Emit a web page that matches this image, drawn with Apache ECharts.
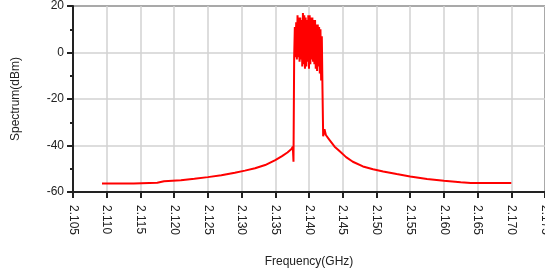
<!DOCTYPE html>
<html>
<head>
<meta charset="utf-8">
<script src="https://cdn.jsdelivr.net/npm/echarts@6/dist/echarts.min.js"></script>
<style>
  html, body { margin: 0; padding: 0; background: #fff; }
  #chart { width: 545px; height: 271px; }
</style>
</head>
<body>
<div id="chart"></div>
<script>
// frequency in GHz
const freqs = [
  2.1093, 2.1140, 2.1175, 2.1185, 2.1210, 2.1230, 2.1250, 2.1270, 2.1290, 2.1305,
  2.1320, 2.1335, 2.1350, 2.1360, 2.1368, 2.1374, 2.1376, 2.1377,
  2.1378, 2.1379, 2.1380, 2.1381, 2.1382, 2.1383, 2.1384, 2.1385, 2.1386, 2.1387,
  2.1388, 2.1389, 2.1390, 2.1391, 2.1392, 2.1393, 2.1394, 2.1395, 2.1396, 2.1397,
  2.1398, 2.1399, 2.1400, 2.1401, 2.1402, 2.1403, 2.1404, 2.1405, 2.1406, 2.1407,
  2.1408, 2.1409, 2.1410, 2.1411, 2.1412, 2.1413, 2.1414, 2.1415, 2.1416, 2.1417,
  2.1418, 2.1419, 2.1420,
  2.1421, 2.1423, 2.1425, 2.1430, 2.1438, 2.1446, 2.1455, 2.1465, 2.1480, 2.1495,
  2.1510, 2.1530, 2.1550, 2.1575, 2.1600, 2.1625, 2.1640, 2.1700
]
// spectrum in dBm
const levels = [
  -56.3, -56.3, -56.0, -55.4, -54.9, -54.3, -53.6, -52.8, -51.7, -50.8,
  -49.8, -48.4, -46.3, -44.6, -43.0, -41.5, -40.5, -47.0,
  -2, 11, -2, 13, -3, 16, -2, 15, -4, 15,
  -3, 14, -6, 17, -5, 16, -7, 15, -6, 14,
  -4, 16, -7, 16, -5, 15, -3, 15, -4, 14,
  -5, 14, -7, 12, -8, 12, -6, 11, -9, 10,
  -12, 7, -16,
  -36, -33, -35.5, -37.5, -40.5, -42.6, -45, -47, -49, -50.2,
  -51.2, -52.3, -53.3, -54.4, -55.2, -55.8, -56.1, -56.1
]
const xMin = 2.105
const xMax = 2.175
const xStep = 0.005
const yTicks = [-60, -40, -20, 0, 20]

const chart = echarts.init(document.getElementById('chart'))

const option = {
  backgroundColor: '#fff',
  animation: false,
  textStyle: { fontFamily: 'Liberation Sans, Arial, sans-serif' },
  grid: {
    left: 73,
    right: 0,
    top: 6,
    bottom: 79,
    outerBoundsMode: 'none',
    containLabel: false,
    show: true,
    borderColor: '#333',
    borderWidth: 2
  },
  xAxis: {
    type: 'value',
    min: xMin,
    max: xMax,
    interval: xStep,
    name: 'Frequency(GHz)',
    nameLocation: 'middle',
    nameGap: 64,
    nameTextStyle: { fontSize: 12, color: '#222' },
    axisLine: { show: true, onZero: false, lineStyle: { color: '#222', width: 2 } },
    axisTick: { show: true, length: 6, lineStyle: { color: '#222', width: 2 } },
    axisLabel: {
      rotate: -90,
      fontSize: 12,
      color: '#222',
      margin: 13,
      showMaxLabel: true,
      formatter: v => v.toFixed(3)
    },
    splitLine: { show: true, lineStyle: { color: '#d2d2d2', width: 1.5 } }
  },
  yAxis: {
    type: 'value',
    min: yTicks[0],
    max: yTicks[yTicks.length - 1],
    interval: 20,
    name: 'Spectrum(dBm)',
    nameLocation: 'middle',
    nameRotate: 90,
    nameGap: 51,
    nameTextStyle: { fontSize: 12, color: '#222' },
    axisLine: { show: true, lineStyle: { color: '#222', width: 2 } },
    axisTick: { show: true, length: 6, lineStyle: { color: '#222', width: 2 } },
    minorTick: { show: true, splitNumber: 2, length: 3, lineStyle: { color: '#222', width: 2 } },
    axisLabel: { fontSize: 12, color: '#222', margin: 9 },
    splitLine: { show: true, lineStyle: { color: '#d2d2d2', width: 1.5 } }
  },
  series: [{
    type: 'line',
    data: freqs.map((f, i) => [f, levels[i]]),
    showSymbol: false,
    symbol: 'none',
    lineStyle: { color: '#ff0000', width: 2 }
  }]
}

chart.setOption(option)
</script>
</body>
</html>
